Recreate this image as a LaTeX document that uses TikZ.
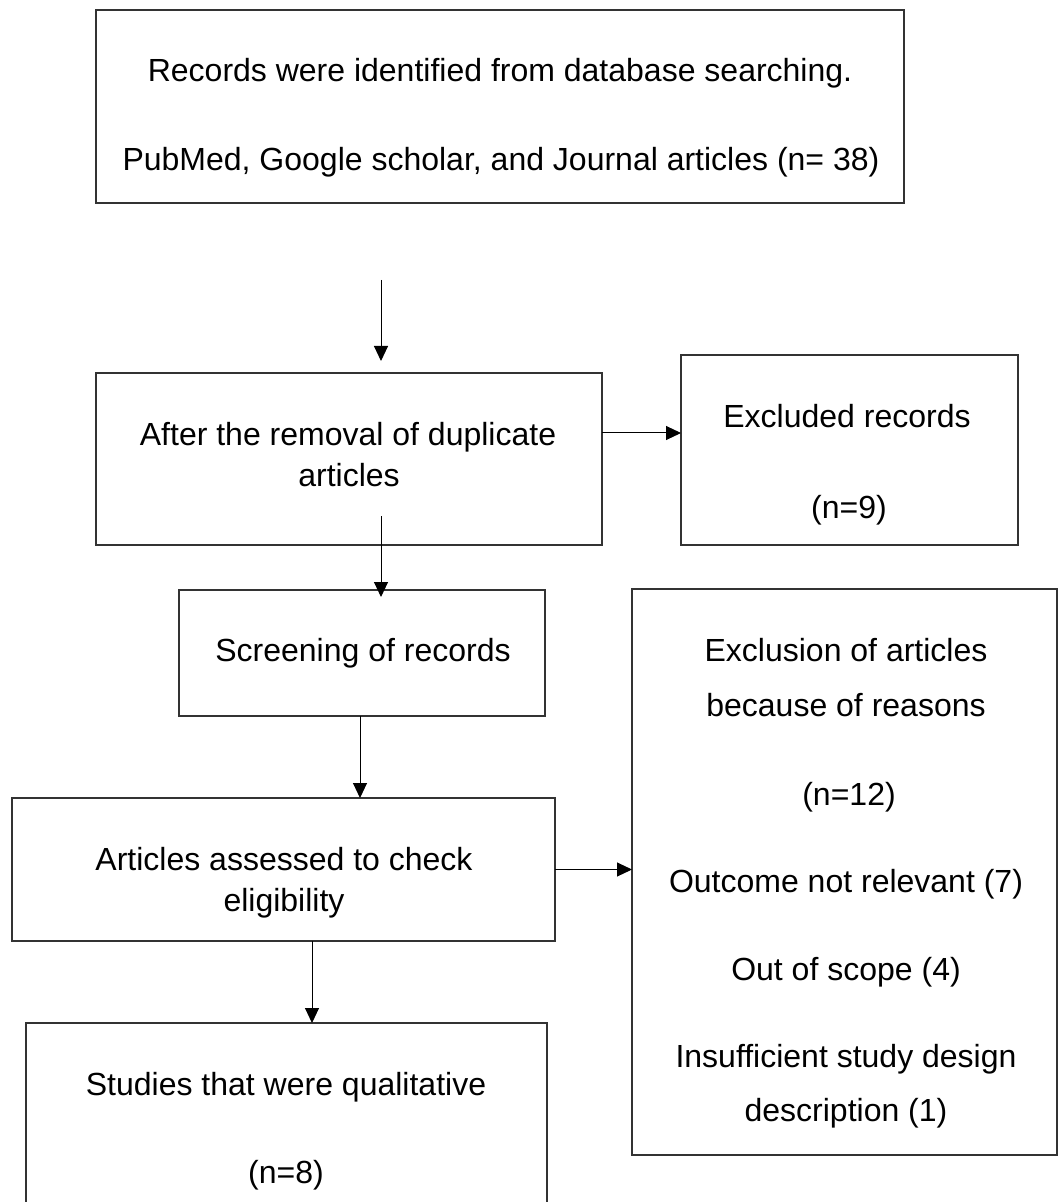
\documentclass[tikz,border=0pt]{standalone}
\usepackage{fontspec}
\setmainfont{Liberation Sans}
\usetikzlibrary{arrows.meta}
\begin{document}
\begin{tikzpicture}[x=0.5pt,y=-0.5pt,
  box/.style={draw=black!80, line width=0.8pt, rectangle, inner sep=0pt, outer sep=0pt},
  txt/.style={anchor=base, inner sep=0pt, font=\fontsize{16}{19}\selectfont},
  arr/.style={draw=black, line width=0.5pt, -{Triangle[length=7.5pt,width=7pt]}}]
\useasboundingbox (0,0) rectangle (1062,1202);
\clip (0,0) rectangle (1062,1202);
\fill[white] (0,0) rectangle (1062,1202);

% boxes
\node[box, minimum width=404pt,   minimum height=96.5pt] (b1) at (500,106.5) {};
\node[box, minimum width=253pt,   minimum height=86pt]   (b2) at (349,459) {};
\node[box, minimum width=168.5pt, minimum height=95pt]   (ex) at (849.5,450) {};
\node[box, minimum width=183pt,   minimum height=63pt]   (sc) at (362,653) {};
\node[box, minimum width=271.5pt, minimum height=71.5pt] (ar) at (283.5,869.5) {};
\node[box, minimum width=212.5pt, minimum height=283pt]  (ez) at (844.5,872) {};
\node[box, minimum width=260.5pt, minimum height=103.5pt] (st) at (286.5,1126.5) {};

% texts
\node[txt] (t1a) at (500,82)  {Records were identified from database searching.};
\node[txt] (t1b) at (501,171) {PubMed, Google scholar, and Journal articles (n= 38)};

\node[txt] (t2a) at (348,446) {After the removal of duplicate};
\node[txt] (t2b) at (349,487) {articles};

\node[txt] (exa) at (847,428) {Excluded records};
\node[txt] (exb) at (849,518) {(n=9)};

\node[txt] (sca) at (363,661) {Screening of records};

\node[txt] (ara) at (284,870) {Articles assessed to check};
\node[txt] (arb) at (284,911) {eligibility};

\node[txt] (eza) at (846,661)  {Exclusion of articles};
\node[txt] (ezb) at (846,716)  {because of reasons};
\node[txt] (ezc) at (849,805)  {(n=12)};
\node[txt] (ezd) at (846,892)  {Outcome not relevant (7)};
\node[txt] (eze) at (846,980)  {Out of scope (4)};
\node[txt] (ezf) at (846,1067) {Insufficient study design};
\node[txt] (ezg) at (846,1121) {description (1)};

\node[txt] (sta) at (286,1095) {Studies that were qualitative};
\node[txt] (stb) at (286,1183) {(n=8)};

% connectors
\draw[arr] ([xshift=-59.5pt,yshift=-38.5pt]b1.south) -- ([xshift=16pt,yshift=6pt]b2.north);
\draw[arr] ([yshift=13pt]b2.east) coordinate (p1) -- (p1 -| ex.west);
\draw[arr] ([xshift=16pt,yshift=14.5pt]b2.south) -- ([xshift=9.5pt,yshift=-3.5pt]sc.north);
\draw[arr] ([xshift=-1pt]sc.south) coordinate (p2) -- (p2 |- ar.north);
\draw[arr] (ar.east) -- (ar.east -| ez.west);
\draw[arr] ([xshift=14.25pt]ar.south) coordinate (p3) -- (p3 |- st.north);
\end{tikzpicture}
\end{document}
